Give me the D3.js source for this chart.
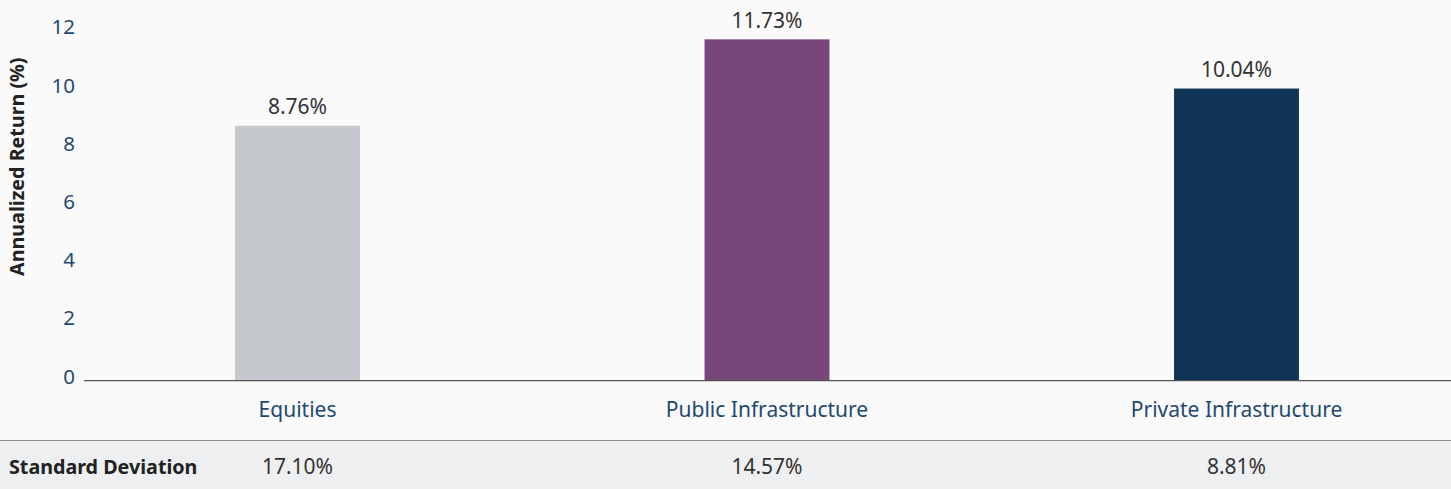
<!DOCTYPE html>
<html>
<head>
<meta charset="utf-8">
<script src="https://cdn.jsdelivr.net/npm/d3@7"></script>
<style>
  html, body { margin: 0; padding: 0; background: #fafafa; }
  svg { display: block; font-family: "Noto Sans", "Open Sans", sans-serif; }
</style>
</head>
<body>
<svg id="chart" width="1451" height="489"></svg>
<script>
// Asset classes and their annualized returns (%)
const categories = ["Equities", "Public Infrastructure", "Private Infrastructure"];
const returns = [8.76, 11.73, 10.04];
const returnLabels = ["8.76%", "11.73%", "10.04%"];
// Standard deviation row under the chart
const stdDevLabels = ["17.10%", "14.57%", "8.81%"];
const yTicks = [0, 2, 4, 6, 8, 10, 12];
const barColors = ["#c5c8cc", "#77477a", "#103455"];

const W = 1451, H = 489;
const FONT = "'Noto Sans', 'Open Sans', sans-serif";
const svg = d3.select("#chart");

const x = d3.scaleBand()
  .domain(categories)
  .range([62.75, 1471.25])
  .paddingInner(0.734)
  .paddingOuter(0.367);

const y = d3.scaleLinear().domain([0, 12]).range([380.7, 31.5]);

// Standard deviation row background
svg.append("rect")
  .attr("x", 0).attr("y", 440.5)
  .attr("width", W).attr("height", H - 440.5)
  .attr("fill", "#eeeff1");
svg.append("line")
  .attr("x1", 0).attr("x2", W)
  .attr("y1", 440.5).attr("y2", 440.5)
  .attr("stroke", "#8a8a8a").attr("stroke-width", 1.2);

// Bars
svg.append("g").selectAll("rect")
  .data(categories)
  .join("rect")
  .attr("x", d => x(d))
  .attr("width", x.bandwidth())
  .attr("y", (d, i) => y(returns[i]))
  .attr("height", (d, i) => y(0) - y(returns[i]))
  .attr("fill", (d, i) => barColors[i]);

// Baseline
svg.append("line")
  .attr("x1", 84).attr("x2", W)
  .attr("y1", y(0)).attr("y2", y(0))
  .attr("stroke", "#555").attr("stroke-width", 1.3);

// Y axis tick labels
const yAxis = d3.axisLeft(y).tickValues(yTicks).tickSize(0).tickPadding(0)
  .tickFormat(d3.format("d"));
const yg = svg.append("g").attr("transform", "translate(75,0)").call(yAxis);
yg.select(".domain").remove();
yg.selectAll("text")
  .attr("dy", null)
  .attr("y", 2.3)
  .attr("font-size", 20.5)
  .attr("font-family", FONT)
  .attr("fill", "#1f4970");

// Y axis title
svg.append("text")
  .attr("transform", `translate(24,166.7) rotate(-90)`)
  .attr("text-anchor", "middle")
  .attr("font-size", 19.7)
  .attr("font-weight", 700)
  .attr("fill", "#222")
  .text("Annualized Return (%)");

// X axis category labels
const xAxis = d3.axisBottom(x).tickSize(0).tickPadding(0);
const xg = svg.append("g").attr("transform", "translate(0,417)").call(xAxis);
xg.select(".domain").remove();
xg.selectAll("text")
  .attr("dy", null)
  .attr("y", 0)
  .attr("font-size", 21)
  .attr("font-family", FONT)
  .attr("fill", "#1f4970");

// Value labels above bars
svg.append("g").selectAll("text")
  .data(categories)
  .join("text")
  .attr("x", d => x(d) + x.bandwidth() / 2)
  .attr("y", (d, i) => y(returns[i]) - 11.7)
  .attr("text-anchor", "middle")
  .attr("font-size", 21)
  .attr("fill", "#333")
  .text((d, i) => returnLabels[i]);

// Standard deviation row
svg.append("text")
  .attr("x", 9).attr("y", 474.3)
  .attr("font-size", 19.7)
  .attr("font-weight", 700)
  .attr("fill", "#222")
  .text("Standard Deviation");

svg.append("g").selectAll("text")
  .data(categories)
  .join("text")
  .attr("x", d => x(d) + x.bandwidth() / 2)
  .attr("y", 474.3)
  .attr("text-anchor", "middle")
  .attr("font-size", 21)
  .attr("fill", "#333")
  .text((d, i) => stdDevLabels[i]);
</script>
</body>
</html>
